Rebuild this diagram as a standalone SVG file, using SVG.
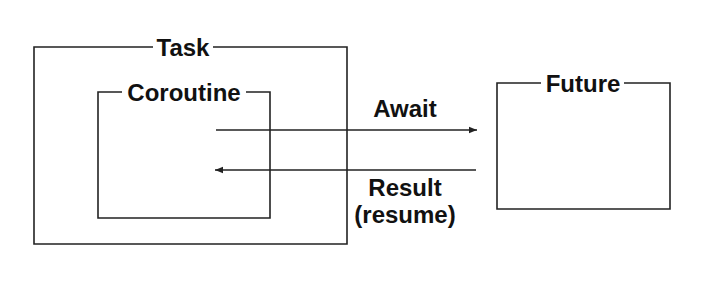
<svg xmlns="http://www.w3.org/2000/svg" width="711" height="297" viewBox="0 0 711 297">
<style>
.box{fill:none;stroke:#222;stroke-width:1.6}
.lbl{font-family:"Liberation Sans",Arial,sans-serif;font-weight:bold;font-size:24px;fill:#111;text-anchor:middle}
.conn{stroke:#222;stroke-width:1.6;fill:none}
</style>
<defs>
<marker id="ah" viewBox="0 0 10 10" refX="10" refY="5" markerWidth="8" markerHeight="8" markerUnits="userSpaceOnUse" orient="auto">
<path d="M0,1 L10,5 L0,9 Z" fill="#222"/>
</marker>
</defs>
<rect width="711" height="297" fill="#fff"/>
<g id="task">
<path class="box" d="M153,47 H34 V244 H347 V47 H213"/>
<text class="lbl" x="183" y="56">Task</text>
</g>
<g id="coroutine">
<path class="box" d="M122,92 H98 V218 H270 V92 H246"/>
<text class="lbl" x="184" y="101">Coroutine</text>
</g>
<g id="future">
<path class="box" d="M541,83 H497 V209 H670 V83 H624"/>
<text class="lbl" x="583" y="92">Future</text>
</g>
<g id="connectors">
<line class="conn" x1="216" y1="130" x2="477" y2="130" marker-end="url(#ah)"/>
<line class="conn" x1="476" y1="170" x2="215" y2="170" marker-end="url(#ah)"/>
<text class="lbl" x="405" y="117">Await</text>
<text class="lbl" x="405" y="196">Result</text>
<text class="lbl" x="405" y="223">(resume)</text>
</g>
</svg>
